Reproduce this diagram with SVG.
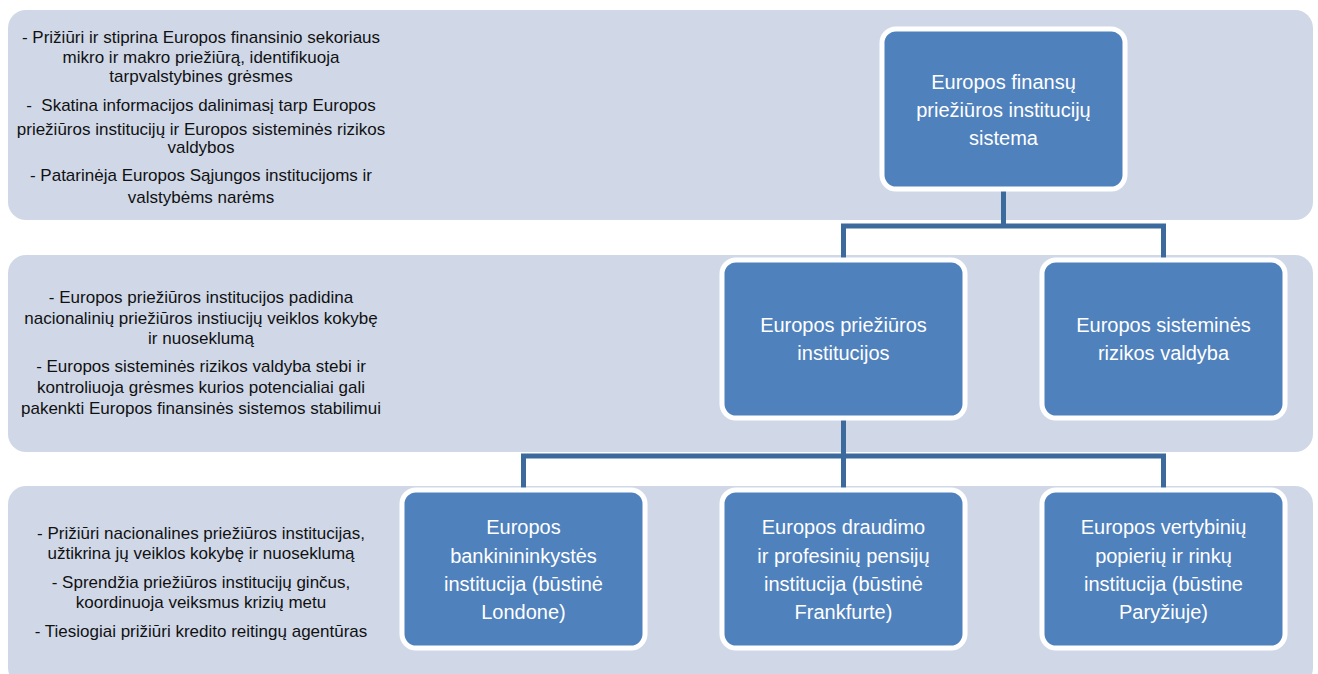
<svg xmlns="http://www.w3.org/2000/svg" width="1318" height="674" viewBox="0 0 1318 674">
<style>
.band{fill:#d0d8e8;}
.box{fill:#4f81bd;stroke:#ffffff;stroke-width:5;}
.bt{font-family:"Liberation Sans",Arial,sans-serif;font-size:20px;fill:#ffffff;text-anchor:middle;}
.lt{font-family:"Liberation Sans",Arial,sans-serif;font-size:17px;fill:#111111;text-anchor:middle;white-space:pre;}
.con{fill:none;stroke:#3d6a9c;stroke-width:5;}
</style>
<rect width="1318" height="674" fill="#ffffff"/>
<g id="bands">
<rect id="band1" class="band" x="8" y="10" width="1305" height="210" rx="18"/>
<rect id="band2" class="band" x="8" y="255" width="1305" height="197" rx="18"/>
<rect id="band3" class="band" x="8" y="486" width="1305" height="200" rx="18"/>
</g>
<g id="band1-text" class="lt">
<text x="201" y="43">- Prižiūri ir stiprina Europos finansinio sekoriaus</text>
<text x="201" y="63">mikro ir makro priežiūrą, identifikuoja</text>
<text x="201" y="82">tarpvalstybines grėsmes</text>
<text x="201" y="111" xml:space="preserve">-  Skatina informacijos dalinimasį tarp Europos</text>
<text x="201" y="135">priežiūros institucijų ir Europos sisteminės rizikos</text>
<text x="201" y="153">valdybos</text>
<text x="201" y="181">- Patarinėja Europos Sąjungos institucijoms ir</text>
<text x="201" y="203">valstybėms narėms</text>
</g>
<g id="band2-text" class="lt">
<text x="201" y="303">- Europos priežiūros institucijos padidina</text>
<text x="201" y="324">nacionalinių priežiūros instiucijų veiklos kokybę</text>
<text x="201" y="344">ir nuoseklumą</text>
<text x="201" y="372">- Europos sisteminės rizikos valdyba stebi ir</text>
<text x="201" y="393">kontroliuoja grėsmes kurios potencialiai gali</text>
<text x="201" y="414">pakenkti Europos finansinės sistemos stabilimui</text>
</g>
<g id="band3-text" class="lt">
<text x="201" y="539">- Prižiūri nacionalines priežiūros institucijas,</text>
<text x="201" y="559">užtikrina jų veiklos kokybę ir nuoseklumą</text>
<text x="201" y="588">- Sprendžia priežiūros institucijų ginčus,</text>
<text x="201" y="608">koordinuoja veiksmus krizių metu</text>
<text x="201" y="637">- Tiesiogiai prižiūri kredito reitingų agentūras</text>
</g>
<g id="connectors">
<path class="con" d="M1003.5 190 V226 M843.5 226 H1163.5 M843.5 223.5 V258 M1163.5 223.5 V258"/>
<path class="con" d="M843.5 419 V488 M523.5 456 H1163.5 M523.5 453.5 V488 M1163.5 453.5 V488"/>
</g>
<g id="node-efpis">
<rect class="box" x="882" y="29" width="243" height="160" rx="14"/>
<text class="bt" x="1003.5" y="89">Europos finansų</text>
<text class="bt" x="1003.5" y="117">priežiūros institucijų</text>
<text class="bt" x="1003.5" y="145">sistema</text>
</g>
<g id="node-epi">
<rect class="box" x="722" y="260" width="243" height="158" rx="14"/>
<text class="bt" x="843.5" y="332">Europos priežiūros</text>
<text class="bt" x="843.5" y="360">institucijos</text>
</g>
<g id="node-esrb">
<rect class="box" x="1042" y="260" width="243" height="158" rx="14"/>
<text class="bt" x="1163.5" y="332">Europos sisteminės</text>
<text class="bt" x="1163.5" y="360">rizikos valdyba</text>
</g>
<g id="node-eba">
<rect class="box" x="402" y="490" width="243" height="158" rx="14"/>
<text class="bt" x="523.5" y="534">Europos</text>
<text class="bt" x="523.5" y="563">bankinininkystės</text>
<text class="bt" x="523.5" y="591">institucija (būstinė</text>
<text class="bt" x="523.5" y="619">Londone)</text>
</g>
<g id="node-eiopa">
<rect class="box" x="722" y="490" width="243" height="158" rx="14"/>
<text class="bt" x="843.5" y="534">Europos draudimo</text>
<text class="bt" x="843.5" y="563">ir profesinių pensijų</text>
<text class="bt" x="843.5" y="591">institucija (būstinė</text>
<text class="bt" x="843.5" y="619">Frankfurte)</text>
</g>
<g id="node-esma">
<rect class="box" x="1042" y="490" width="243" height="158" rx="14"/>
<text class="bt" x="1163.5" y="534">Europos vertybinių</text>
<text class="bt" x="1163.5" y="563">popierių ir rinkų</text>
<text class="bt" x="1163.5" y="591">institucija (būstine</text>
<text class="bt" x="1163.5" y="619">Paryžiuje)</text>
</g>
</svg>
